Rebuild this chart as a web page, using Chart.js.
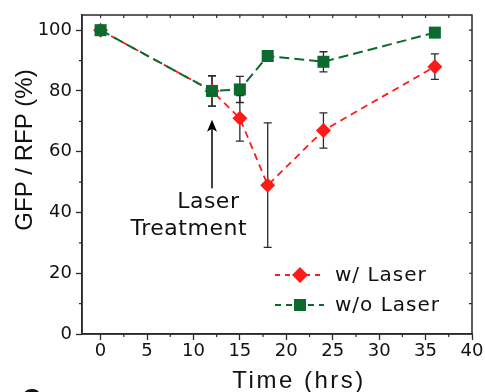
<!DOCTYPE html>
<html>
<head>
    <title>GFP / RFP vs Time</title>
    <script src="https://cdn.jsdelivr.net/npm/chart.js@4.4.0/dist/chart.umd.min.js"></script>
    <style>
        body { margin: 0; background: #fff; }
        canvas { display: block; }
    </style>
</head>
<body>
    <canvas id="myChart" width="485" height="392"></canvas>

    <script>
        // data
        const times = [0, 12, 15, 18, 24, 36];
        const withLaser = [100, 80, 71, 49, 67, 88];
        const withLaserErr = [0, 5, 7.5, 20.5, 5.8, 4.2];
        const withoutLaser = [100, 80, 80.5, 91.5, 89.6, 99.2];
        const withoutLaserErr = [0, 5, 4.3, 1.5, 3.3, 1];
        const seriesNames = ['w/ Laser', 'w/o Laser'];
        const xTicks = [0, 5, 10, 15, 20, 25, 30, 35, 40];
        const yTicks = [0, 20, 40, 60, 80, 100];

        const RED = '#ff1a1a';
        const GREEN = '#0b6b2e';
        const AXIS = '#2a2a2a';

        function drawMarker(ctx, style, x, y, r, color) {
            ctx.save();
            ctx.fillStyle = color;
            ctx.beginPath();
            if (style === 'diamond') {
                ctx.moveTo(x, y - r); ctx.lineTo(x + r, y); ctx.lineTo(x, y + r); ctx.lineTo(x - r, y);
            } else {
                ctx.rect(x - r, y - r, 2 * r, 2 * r);
            }
            ctx.closePath();
            ctx.fill();
            ctx.restore();
        }

        const extras = {
            id: 'extras',
            beforeDatasetsDraw(chart) {
                const { ctx, scales: { x, y } } = chart;
                ctx.save();
                ctx.strokeStyle = AXIS;
                ctx.lineWidth = 1.3;
                [[withLaser, withLaserErr], [withoutLaser, withoutLaserErr]].forEach(([vals, errs]) => {
                    times.forEach((t, i) => {
                        if (!errs[i]) return;
                        const px = x.getPixelForValue(t);
                        const top = y.getPixelForValue(vals[i] + errs[i]);
                        const bot = y.getPixelForValue(vals[i] - errs[i]);
                        ctx.beginPath();
                        ctx.moveTo(px, top); ctx.lineTo(px, bot);
                        ctx.moveTo(px - 4, top); ctx.lineTo(px + 4, top);
                        ctx.moveTo(px - 4, bot); ctx.lineTo(px + 4, bot);
                        ctx.stroke();
                    });
                });
                ctx.restore();
            },
            afterDraw(chart) {
                const { ctx, chartArea: a, scales: { x, y } } = chart;
                ctx.save();

                // frame
                ctx.strokeStyle = AXIS;
                ctx.lineWidth = 1.5;
                ctx.strokeRect(a.left, a.top, a.right - a.left, a.bottom - a.top);

                // minor ticks + mirrored ticks
                ctx.lineWidth = 1.2;
                ctx.beginPath();
                for (let v = 10; v < 100; v += 20) {
                    const py = y.getPixelForValue(v);
                    ctx.moveTo(a.left - 3, py); ctx.lineTo(a.left, py);
                }
                for (let v = 2.5; v < 40; v += 5) {
                    const px = x.getPixelForValue(v);
                    ctx.moveTo(px, a.bottom); ctx.lineTo(px, a.bottom + 3);
                }
                for (let v = 0; v <= 100; v += 10) {
                    const py = y.getPixelForValue(v);
                    ctx.moveTo(a.right - 3, py); ctx.lineTo(a.right, py);
                }
                for (let v = 0; v < 40; v += 2.5) {
                    const px = x.getPixelForValue(v);
                    ctx.moveTo(px, a.top); ctx.lineTo(px, a.top + 3);
                }
                ctx.stroke();

                // laser treatment arrow
                const ax = x.getPixelForValue(12);
                const tip = y.getPixelForValue(70.5);
                const tail = y.getPixelForValue(48);
                ctx.strokeStyle = '#000';
                ctx.fillStyle = '#000';
                ctx.lineWidth = 1.5;
                ctx.beginPath();
                ctx.moveTo(ax, tail); ctx.lineTo(ax, tip + 8);
                ctx.stroke();
                ctx.beginPath();
                ctx.moveTo(ax, tip); ctx.lineTo(ax - 5, tip + 12); ctx.lineTo(ax, tip + 9); ctx.lineTo(ax + 5, tip + 12);
                ctx.closePath();
                ctx.fill();

                ctx.fillStyle = '#111';
                ctx.font = '22px "DejaVu Sans"';
                ctx.letterSpacing = '0.5px';
                ctx.textAlign = 'center';
                ctx.textBaseline = 'alphabetic';
                ctx.fillText('Laser', x.getPixelForValue(11.6), y.getPixelForValue(41.4));
                ctx.fillText('Treatment', x.getPixelForValue(9.5), y.getPixelForValue(32.6));

                // legend
                const rows = [
                    { label: seriesNames[0], color: RED, style: 'diamond', r: 8, dash: [5, 5], yy: 275 },
                    { label: seriesNames[1], color: GREEN, style: 'square', r: 6, dash: [6, 5], yy: 305 }
                ];
                rows.forEach(row => {
                    ctx.strokeStyle = row.color;
                    ctx.lineWidth = 2;
                    ctx.setLineDash(row.dash);
                    ctx.beginPath();
                    ctx.moveTo(275, row.yy); ctx.lineTo(324, row.yy);
                    ctx.stroke();
                    ctx.setLineDash([]);
                    drawMarker(ctx, row.style, 300, row.yy, row.r, row.color);
                    ctx.fillStyle = '#111';
                    ctx.font = '20px "DejaVu Sans"';
                    ctx.letterSpacing = '1px';
                    ctx.textAlign = 'left';
                    ctx.textBaseline = 'middle';
                    ctx.fillText(row.label, 335, row.yy + 1);
                });

                // axis titles
                ctx.fillStyle = '#111';
                ctx.font = '24px "Liberation Sans"';
                ctx.letterSpacing = '2.5px';
                ctx.textAlign = 'center';
                ctx.textBaseline = 'alphabetic';
                ctx.fillText('Time (hrs)', 299, 388);

                ctx.letterSpacing = '0px';
                ctx.translate(32, 150);
                ctx.rotate(-Math.PI / 2);
                ctx.fillText('GFP / RFP (%)', 0, 0);
                ctx.setTransform(1, 0, 0, 1, 0, 0);

                // panel letter (cut off at the bottom edge)
                ctx.font = 'bold 26px "Liberation Sans"';
                ctx.textAlign = 'left';
                ctx.fillText('C', 22, 407);

                ctx.restore();
            }
        };

        const ctx = document.getElementById('myChart').getContext('2d');
        new Chart(ctx, {
            type: 'scatter',
            data: {
                datasets: [
                    {
                        label: seriesNames[1],
                        data: times.map((t, i) => ({ x: t, y: withoutLaser[i] })),
                        showLine: true,
                        borderColor: GREEN,
                        borderWidth: 2,
                        borderDash: [10, 5],
                        backgroundColor: GREEN,
                        pointStyle: 'rect',
                        pointRadius: 8.5,
                        pointBorderWidth: 0,
                        order: 0
                    },
                    {
                        label: seriesNames[0],
                        data: times.map((t, i) => ({ x: t, y: withLaser[i] })),
                        showLine: true,
                        borderColor: RED,
                        borderWidth: 1.8,
                        borderDash: [7, 5],
                        backgroundColor: RED,
                        pointStyle: 'rectRot',
                        pointRadius: 7.5,
                        pointBorderWidth: 0,
                        order: 1
                    }
                ]
            },
            options: {
                responsive: false,
                animation: false,
                layout: { padding: { top: 15, right: 13, left: 0, bottom: 0 } },
                plugins: {
                    legend: { display: false },
                    tooltip: { enabled: false }
                },
                scales: {
                    x: {
                        type: 'linear',
                        min: -2,
                        max: 40,
                        afterBuildTicks: s => { s.ticks = xTicks.map(v => ({ value: v })); },
                        afterFit: s => { s.height = 58; },
                        grid: { drawOnChartArea: false, tickLength: 6, color: AXIS, tickWidth: 1.3 },
                        border: { display: true, color: AXIS, width: 1.5 },
                        ticks: {
                            padding: 1,
                            color: '#111',
                            maxRotation: 0,
                            font: { family: 'DejaVu Sans', size: 18 }
                        }
                    },
                    y: {
                        min: 0,
                        max: 105,
                        afterBuildTicks: s => { s.ticks = yTicks.map(v => ({ value: v })); },
                        afterFit: s => { s.width = 82; },
                        grid: { drawOnChartArea: false, tickLength: 6, color: AXIS, tickWidth: 1.3 },
                        border: { display: true, color: AXIS, width: 1.5 },
                        ticks: {
                            padding: 4,
                            color: '#111',
                            font: { family: 'DejaVu Sans', size: 18 }
                        }
                    }
                }
            },
            plugins: [extras]
        });
    </script>
</body>
</html>
